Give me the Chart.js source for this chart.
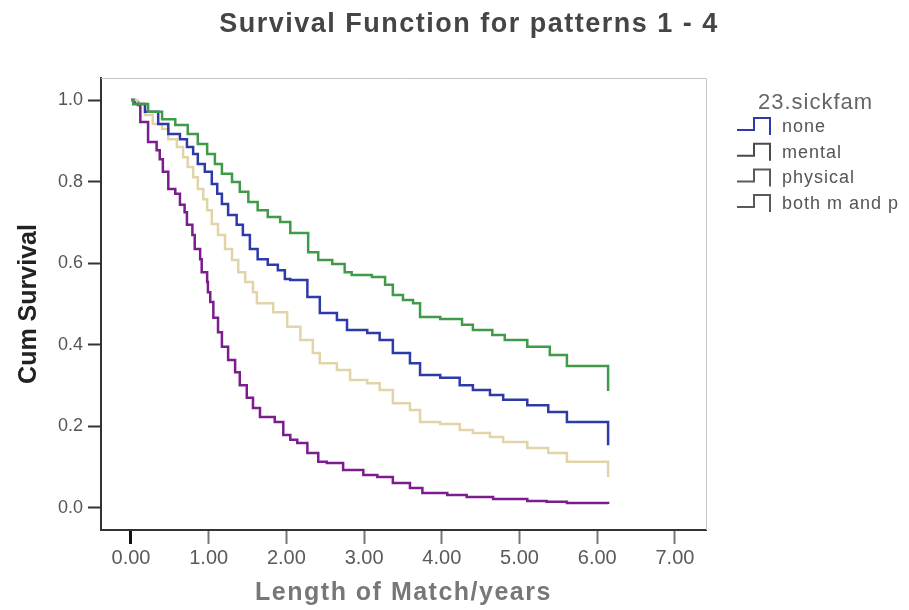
<!DOCTYPE html>
<html>
<head>
<meta charset="utf-8">
<title>Survival Function for patterns 1 - 4</title>
<script src="https://cdn.jsdelivr.net/npm/chart.js@4.4.1/dist/chart.umd.min.js"></script>
<style>
  body { margin: 0; background: #fff; }
  #wrap { width: 909px; height: 610px; }
</style>
</head>
<body>
<div id="wrap"><canvas id="survivalChart" width="909" height="610"></canvas></div>
<script>
// Kaplan-Meier estimates (time in years, cumulative survival)
const noneTime = [0, 0.03, 0.18, 0.35, 0.48, 0.63, 0.72, 0.80, 0.86, 0.95, 1.04, 1.11, 1.17, 1.25, 1.36, 1.44, 1.53, 1.63, 1.76, 1.89, 1.98, 2.05, 2.27, 2.43, 2.65, 2.78, 3.04, 3.20, 3.37, 3.59, 3.72, 3.98, 4.23, 4.40, 4.62, 4.79, 5.10, 5.37, 5.61, 6.14];
const noneSurv = [1.0, 0.99, 0.971, 0.941, 0.917, 0.904, 0.885, 0.868, 0.843, 0.824, 0.794, 0.770, 0.745, 0.718, 0.694, 0.669, 0.635, 0.610, 0.596, 0.583, 0.561, 0.559, 0.517, 0.478, 0.461, 0.436, 0.429, 0.412, 0.380, 0.355, 0.326, 0.319, 0.301, 0.289, 0.277, 0.265, 0.252, 0.235, 0.211, 0.154];

const mentalTime = [0, 0.03, 0.22, 0.40, 0.57, 0.73, 0.86, 0.98, 1.08, 1.17, 1.30, 1.40, 1.51, 1.63, 1.76, 1.92, 2.05, 2.28, 2.41, 2.59, 2.75, 2.84, 3.10, 3.27, 3.37, 3.50, 3.63, 3.72, 3.98, 4.26, 4.40, 4.65, 4.81, 5.10, 5.39, 5.61, 6.14];
const mentalSurv = [1.0, 0.99, 0.971, 0.953, 0.939, 0.917, 0.892, 0.868, 0.843, 0.819, 0.799, 0.775, 0.750, 0.730, 0.713, 0.701, 0.674, 0.627, 0.608, 0.598, 0.578, 0.571, 0.566, 0.547, 0.522, 0.510, 0.502, 0.468, 0.463, 0.449, 0.436, 0.424, 0.412, 0.395, 0.375, 0.348, 0.287];

const physicalTime = [0, 0.08, 0.18, 0.28, 0.40, 0.48, 0.59, 0.67, 0.73, 0.80, 0.86, 0.93, 0.98, 1.04, 1.12, 1.21, 1.30, 1.38, 1.47, 1.57, 1.62, 1.83, 2.01, 2.18, 2.34, 2.43, 2.65, 2.82, 3.04, 3.20, 3.37, 3.59, 3.72, 3.98, 4.23, 4.40, 4.62, 4.79, 5.10, 5.37, 5.61, 6.14];
const physicalSurv = [1.0, 0.990, 0.963, 0.941, 0.929, 0.904, 0.885, 0.860, 0.836, 0.811, 0.782, 0.757, 0.730, 0.696, 0.669, 0.635, 0.608, 0.578, 0.554, 0.529, 0.502, 0.480, 0.444, 0.412, 0.380, 0.355, 0.338, 0.314, 0.306, 0.289, 0.257, 0.240, 0.211, 0.206, 0.191, 0.184, 0.174, 0.162, 0.147, 0.135, 0.113, 0.076];

const bothTime = [0, 0.05, 0.09, 0.12, 0.22, 0.33, 0.37, 0.41, 0.48, 0.57, 0.63, 0.69, 0.72, 0.79, 0.82, 0.89, 0.91, 0.98, 0.99, 1.02, 1.06, 1.12, 1.17, 1.25, 1.34, 1.40, 1.49, 1.57, 1.66, 1.85, 1.96, 2.05, 2.14, 2.27, 2.41, 2.52, 2.73, 2.99, 3.17, 3.37, 3.59, 3.75, 4.07, 4.32, 4.66, 5.10, 5.35, 5.61, 6.14];
const bothSurv = [1.0, 0.995, 0.988, 0.946, 0.897, 0.877, 0.855, 0.824, 0.782, 0.770, 0.743, 0.725, 0.694, 0.669, 0.635, 0.610, 0.578, 0.554, 0.529, 0.505, 0.466, 0.431, 0.395, 0.363, 0.333, 0.301, 0.270, 0.245, 0.223, 0.211, 0.179, 0.167, 0.159, 0.135, 0.113, 0.110, 0.093, 0.081, 0.076, 0.061, 0.049, 0.037, 0.032, 0.027, 0.022, 0.017, 0.015, 0.012, 0.010];

const groupLabels = ["none", "mental", "physical", "both m and p"];
const xTickValues = [0, 1, 2, 3, 4, 5, 6, 7];
const yTickValues = [0, 0.2, 0.4, 0.6, 0.8, 1.0];

const FONT = "'Liberation Sans', Arial, Helvetica, sans-serif";

function toPoints(times, surv) {
  return times.map((t, i) => ({ x: t, y: surv[i] }));
}

function stepSet(label, times, surv, color) {
  return {
    label: label,
    data: toPoints(times, surv),
    borderColor: color,
    borderWidth: 2.5,
    stepped: "before",
    pointRadius: 0,
    fill: false,
  };
}

function spacedText(ctx, text, x, y, spacing) {
  ctx.letterSpacing = spacing + "px";
  ctx.fillText(text, x, y);
  ctx.letterSpacing = "0px";
}

// Title, frame, x axis title and SPSS-style legend drawn on the canvas
const decorations = {
  id: "decorations",
  afterDraw(chart) {
    const ctx = chart.ctx;
    const area = chart.chartArea;
    ctx.save();

    // thin frame on the top and right of the plot
    ctx.strokeStyle = "#c4c4c4";
    ctx.lineWidth = 1;
    ctx.beginPath();
    ctx.moveTo(area.left, area.top + 0.5);
    ctx.lineTo(area.right + 0.5, area.top + 0.5);
    ctx.lineTo(area.right + 0.5, area.bottom);
    ctx.stroke();

    // main title
    ctx.fillStyle = "#454545";
    ctx.font = "bold 27px " + FONT;
    ctx.textAlign = "center";
    ctx.textBaseline = "middle";
    spacedText(ctx, "Survival Function for patterns 1 - 4", 469, 25, 1.5);

    // x axis title
    ctx.fillStyle = "#777777";
    ctx.font = "bold 25px " + FONT;
    spacedText(ctx, "Length of Match/years", (area.left + area.right) / 2, 593, 1.5);

    // legend
    ctx.textAlign = "left";
    ctx.fillStyle = "#666666";
    ctx.font = "22px " + FONT;
    spacedText(ctx, "23.sickfam", 758, 103, 1);

    const glyphColors = ["#2d3aa8", "#4a4a4a", "#5a5a5a", "#5a5a5a"];
    ctx.font = "18px " + FONT;
    groupLabels.forEach((label, i) => {
      const cy = 127 + i * 25.7;
      ctx.strokeStyle = glyphColors[i];
      ctx.lineWidth = 2;
      ctx.beginPath();
      ctx.moveTo(737, cy + 3);
      ctx.lineTo(754, cy + 3);
      ctx.lineTo(754, cy - 9);
      ctx.lineTo(770, cy - 9);
      ctx.lineTo(770, cy + 8);
      ctx.stroke();
      ctx.fillStyle = "#555555";
      spacedText(ctx, label, 782, cy, 1);
    });

    ctx.restore();
  },
};

const ctx = document.getElementById("survivalChart").getContext("2d");

new Chart(ctx, {
  type: "line",
  data: {
    datasets: [
      stepSet(groupLabels[1], mentalTime, mentalSurv, "#3f9b48"),
      stepSet(groupLabels[0], noneTime, noneSurv, "#2d3aa8"),
      stepSet(groupLabels[2], physicalTime, physicalSurv, "#e2d4a9"),
      stepSet(groupLabels[3], bothTime, bothSurv, "#7b1d8c"),
    ],
  },
  options: {
    responsive: false,
    animation: false,
    layout: {
      padding: { top: 78, left: 0, right: 203, bottom: 0 },
    },
    plugins: {
      legend: { display: false },
      tooltip: { enabled: false },
      title: { display: false },
    },
    scales: {
      x: {
        type: "linear",
        min: -0.386,
        max: 7.40,
        afterBuildTicks: (axis) => {
          axis.ticks = xTickValues.map((v) => ({ value: v }));
        },
        afterFit: (axis) => {
          axis.height = 80;
        },
        grid: {
          drawOnChartArea: false,
          drawTicks: true,
          tickLength: 14,
          tickWidth: (c) => (c.index === 0 ? 3 : 2),
          tickColor: (c) => (c.index === 0 ? "#111111" : "#777777"),
        },
        border: { color: "#333333", width: 2 },
        ticks: {
          padding: 2,
          color: "#5a5a5a",
          font: { family: FONT, size: 20 },
          maxRotation: 0,
          callback: (v) => Number(v).toFixed(2),
        },
        title: { display: false },
      },
      y: {
        type: "linear",
        min: -0.054,
        max: 1.054,
        afterBuildTicks: (axis) => {
          axis.ticks = yTickValues.map((v) => ({ value: v }));
        },
        afterFit: (axis) => {
          axis.width = 101;
        },
        grid: {
          drawOnChartArea: false,
          drawTicks: true,
          tickLength: 13,
          tickWidth: 2,
          tickColor: "#333333",
        },
        border: { color: "#333333", width: 2 },
        ticks: {
          padding: 5,
          color: "#555555",
          font: { family: FONT, size: 18 },
          callback: (v) => Number(v).toFixed(1),
        },
        title: {
          display: true,
          text: "Cum Survival",
          color: "#222222",
          font: { family: FONT, size: 25, weight: "bold" },
          padding: { top: 14, bottom: 0 },
        },
      },
    },
  },
  plugins: [decorations],
});
</script>
</body>
</html>
